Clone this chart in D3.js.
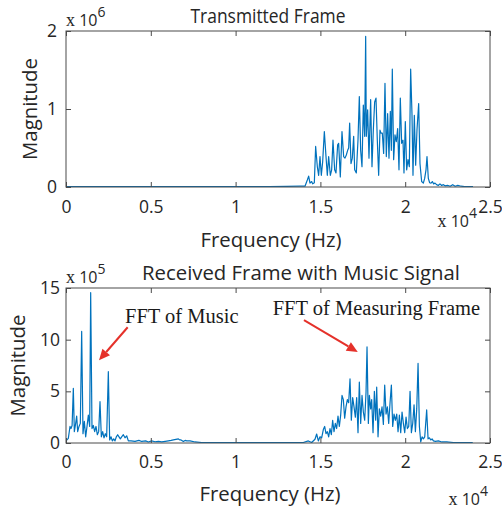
<!DOCTYPE html>
<html>
<head>
<meta charset="utf-8">
<script src="https://cdn.jsdelivr.net/npm/d3@7"></script>
<style>
  html, body { margin: 0; padding: 0; background: #fff; }
  svg { display: block; }
</style>
</head>
<body>
<svg id="chart" width="502" height="511"></svg>
<script>
// ---------------- DATA ----------------
// Frequency axis ticks (Hz) and labels (shown in units of 10^4)
const xTicks = [0, 5000, 10000, 15000, 20000, 25000];
const xTickLabels = ["0", "0.5", "1", "1.5", "2", "2.5"];

// Top panel: Transmitted Frame, magnitude in units of 10^6
const yTicksTop = [0, 1, 2];
const freqTop = [0, 2000, 4000, 6000, 8000, 10000, 12000, 13000, 13797, 14091, 14229, 14308, 14386, 14485, 14543, 14642,
  14720, 14819, 14897, 14976, 15055, 15133, 15232, 15330, 15408, 15487, 15585, 15664, 15742, 15840, 15919,
  16017, 16076, 16174, 16273, 16371, 16450, 16528, 16607, 16666, 16725, 16804, 16882, 16961, 17020, 17118,
  17216, 17295, 17374, 17452, 17531, 17610, 17669, 17708, 17786, 17865, 17963, 18042, 18120, 18199, 18278,
  18356, 18435, 18513, 18572, 18651, 18729, 18808, 18887, 18965, 19044, 19123, 19182, 19240, 19319, 19398,
  19476, 19555, 19634, 19712, 19791, 19870, 19928, 20007, 20086, 20164, 20243, 20322, 20400, 20459, 20538,
  20617, 20695, 20794, 20872, 20970, 21069, 21148, 21226, 21285, 21364, 21442, 21521, 21600, 21678, 21757,
  21850, 21950, 22050, 22150, 22250, 22350, 22500, 22650, 22800, 22950, 23100, 23300, 23500, 23700, 24000];
const magTop = [0.005, 0.004, 0.005, 0.004, 0.005, 0.005, 0.006, 0.008, 0.01, 0.01, 0.09, 0.14, 0.05, 0.07, 0.04, 0.055,
  0.52, 0.26, 0.15, 0.39, 0.15, 0.32, 0.71, 0.39, 0.15, 0.39, 0.15, 0.22, 0.60, 0.22, 0.18,
  0.54, 0.56, 0.13, 0.71, 0.39, 0.37, 0.41, 0.47, 0.50, 0.82, 0.30, 0.37, 0.65, 0.22, 0.18,
  0.60, 1.16, 0.47, 0.26, 1.05, 0.65, 1.93, 0.65, 0.99, 0.37, 1.12, 0.26, 0.73, 1.09, 1.14,
  0.60, 0.15, 0.73, 0.69, 0.69, 0.43, 1.33, 0.39, 0.94, 0.37, 0.97, 0.47, 1.51, 0.35, 0.67,
  0.58, 0.75, 0.22, 1.14, 0.56, 0.60, 0.18, 0.84, 0.22, 0.35, 0.26, 1.51, 0.94, 0.15, 0.92,
  0.28, 0.73, 1.07, 0.30, 0.07, 0.05, 0.11, 0.22, 0.39, 0.11, 0.055, 0.05, 0.07, 0.04, 0.05,
  0.03, 0.02, 0.04, 0.02, 0.03, 0.015, 0.02, 0.01, 0.03, 0.01, 0.02, 0.01, 0.005, 0.005, 0.005];

// Bottom panel: Received Frame with Music Signal, magnitude in units of 10^5
const yTicksBottom = [0, 5, 10, 15];
const freqBottom = [0, 137, 236, 295, 360, 432, 491, 570, 629, 688, 767, 845, 924, 1002, 1081, 1160, 1238, 1317,
  1396, 1455, 1533, 1612, 1690, 1769, 1848, 1926, 2005, 2084, 2162, 2241, 2320, 2398, 2496, 2575, 2654,
  2732, 2811, 2890, 2968, 3047, 3126, 3204, 3283, 3381, 3480, 3578, 3676, 3833, 4069, 4300, 4462, 4700,
  4855, 5050, 5249, 5450, 5642, 5850, 6035, 6200, 6330, 6480, 6625, 6700, 6782, 6920, 7020, 7117, 7313,
  7608, 8001, 9000, 10000, 11000, 12000, 13000, 13993, 14288, 14485, 14681, 14779, 14878, 14976, 15074,
  15173, 15251, 15330, 15409, 15487, 15566, 15645, 15723, 15802, 15881, 15959, 16038, 16117, 16195, 16274,
  16352, 16431, 16510, 16588, 16667, 16746, 16824, 16903, 16982, 17060, 17139, 17218, 17296, 17375, 17454,
  17532, 17611, 17690, 17749, 17828, 17887, 17965, 18024, 18103, 18182, 18260, 18319, 18398, 18477, 18555,
  18634, 18713, 18791, 18870, 18949, 19027, 19106, 19185, 19263, 19342, 19421, 19500, 19578, 19657, 19736,
  19814, 19893, 19972, 20050, 20129, 20208, 20286, 20365, 20444, 20522, 20601, 20680, 20758, 20837, 20916,
  20995, 21073, 21152, 21266, 21348, 21427, 21506, 21585, 21663, 21781, 21958, 22154, 22449, 22842, 23431, 23982];
const magBottom = [0.2, 0.45, 1.6, 1.4, 1.7, 5.3, 1.1, 1.9, 2.6, 1.1, 1.6, 1.9, 10.8, 0.9, 2.1, 0.6, 1.6, 2.7,
  1.6, 14.55, 1.4, 1.7, 1.1, 1.6, 0.8, 1.1, 4.0, 0.6, 1.1, 0.5, 0.9, 0.6, 6.9, 0.3, 0.6,
  0.2, 0.4, 0.2, 0.6, 0.8, 0.6, 0.4, 0.6, 0.8, 0.5, 0.7, 0.2, 0.2, 0.15, 0.25, 0.15, 0.2,
  0.1, 0.2, 0.12, 0.15, 0.1, 0.15, 0.2, 0.25, 0.3, 0.35, 0.4, 0.3, 0.3, 0.15, 0.25, 0.2, 0.2,
  0.1, 0.05, 0.03, 0.03, 0.03, 0.03, 0.03, 0.05, 0.2, 0.05, 0.36, 0.87, 0.2, 0.6, 0.5,
  1.3, 1.6, 0.9, 1.1, 0.6, 1.4, 0.8, 2.2, 1.1, 1.9, 1.4, 2.6, 1.6, 2.7, 4.6,
  4.2, 2.4, 3.5, 4.2, 3.9, 6.2, 2.2, 4.4, 3.5, 2.5, 4.4, 1.0, 5.9, 1.9, 4.6,
  3.0, 2.2, 4.9, 9.3, 1.9, 4.6, 3.3, 4.2, 1.0, 5.0, 2.2, 5.4, 0.6, 3.3, 2.6,
  3.5, 1.8, 5.6, 2.8, 3.5, 1.9, 3.9, 5.6, 1.6, 2.8, 2.2, 2.8, 1.1, 2.7, 1.0,
  3.0, 1.9, 1.0, 2.5, 1.4, 1.6, 5.0, 1.0, 1.9, 3.7, 1.1, 3.3, 7.7, 1.6, 0.1,
  0.6, 0.4, 0.6, 3.2, 0.4, 0.5, 0.3, 0.4, 0.2, 0.15, 0.2, 0.1, 0.1, 0.05, 0.05, 0.05];

// ---------------- DRAW ----------------
const svg = d3.select("#chart");
const lineColor = "#0072BD";
const axisColor = "#4a4a4a";
const textColor = "#262626";
const red = "#e5312a";
const SANS = '"Open Sans", "DejaVu Sans", sans-serif';
const SERIF = '"Liberation Serif", "Times New Roman", serif';

function panel(cfg) {
  const g = svg.append("g");
  const x = d3.scaleLinear().domain([0, 25000]).range([cfg.left, cfg.right]);
  const y = d3.scaleLinear().domain(cfg.yDomain).range([cfg.bottom, cfg.top]);

  const clipId = "clip" + cfg.id;
  svg.append("clipPath").attr("id", clipId).append("rect")
    .attr("x", cfg.left).attr("y", cfg.top - 2)
    .attr("width", cfg.right - cfg.left).attr("height", cfg.bottom - cfg.top + 2);

  const pts = cfg.freq.map((f, i) => [f, cfg.mag[i]]);
  g.append("path").datum(pts)
    .attr("clip-path", `url(#${clipId})`)
    .attr("fill", "none").attr("stroke", lineColor).attr("stroke-width", 1.2)
    .attr("stroke-linejoin", "round")
    .attr("d", d3.line().x(d => x(d[0])).y(d => y(d[1])));

  const fmtX = (d, i) => xTickLabels[i];
  const ax = [
    ["bottom", d3.axisBottom(x).tickValues(xTicks).tickFormat(fmtX).tickSizeInner(-5).tickSizeOuter(0).tickPadding(cfg.xPad), cfg.bottom],
    ["top", d3.axisTop(x).tickValues(xTicks).tickFormat("").tickSizeInner(-5).tickSizeOuter(0), cfg.top],
    ["left", d3.axisLeft(y).tickValues(cfg.yTicks).tickFormat(d3.format("d")).tickSizeInner(-5).tickSizeOuter(0).tickPadding(cfg.yPad), cfg.left],
    ["right", d3.axisRight(y).tickValues(cfg.yTicks).tickFormat("").tickSizeInner(-5).tickSizeOuter(0), cfg.right]
  ];
  ax.forEach(([side, axis, pos]) => {
    const a = g.append("g")
      .attr("transform", side === "bottom" || side === "top" ? `translate(0,${pos})` : `translate(${pos},0)`)
      .call(axis);
    a.select(".domain").remove();
    a.selectAll("line").attr("stroke", axisColor);
    a.selectAll("text").attr("font-size", 17.5).attr("fill", textColor).attr("font-family", SANS);
  });
  g.append("rect").attr("x", cfg.left).attr("y", cfg.top)
    .attr("width", cfg.right - cfg.left).attr("height", cfg.bottom - cfg.top)
    .attr("fill", "none").attr("stroke", axisColor).attr("stroke-width", 1);

  const txt = (sel) => sel.attr("font-family", SANS).attr("fill", textColor);
  txt(g.append("text")).attr("x", cfg.titleX).attr("y", cfg.titleY)
    .attr("text-anchor", "middle").attr("font-size", 19.5)
    .attr("textLength", cfg.titleLen).attr("lengthAdjust", "spacingAndGlyphs").text(cfg.title);
  txt(g.append("text")).attr("x", cfg.xLabelX).attr("y", cfg.xLabelY)
    .attr("text-anchor", "middle").attr("font-size", 20.5)
    .attr("textLength", 141).attr("lengthAdjust", "spacingAndGlyphs").text("Frequency (Hz)");
  txt(g.append("text")).attr("transform", `translate(${cfg.yLabelX},${(cfg.top + cfg.bottom) / 2}) rotate(-90)`)
    .attr("text-anchor", "middle").attr("font-size", 20.5)
    .attr("textLength", 102).attr("lengthAdjust", "spacingAndGlyphs").text("Magnitude");

  const ye = txt(g.append("text")).attr("x", cfg.left).attr("y", cfg.top - 5).attr("font-size", 16);
  ye.append("tspan").attr("font-family", SERIF).attr("font-size", 18).text("x");
  ye.append("tspan").text(" 10");
  ye.append("tspan").attr("dy", -9).attr("font-size", 14).text(cfg.yExp);
  const xe = txt(g.append("text")).attr("x", cfg.xExpX).attr("y", cfg.xExpY).attr("text-anchor", "end").attr("font-size", 16);
  xe.append("tspan").attr("font-family", SERIF).attr("font-size", 18).text("x");
  xe.append("tspan").text(" 10");
  xe.append("tspan").attr("dy", -9).attr("font-size", 14).text("4");

  return { x, y, g };
}

const topPanel = panel({
  id: "t", left: 66, right: 490, top: 31, bottom: 187,
  yDomain: [0, 2], yTicks: yTicksTop, freq: freqTop, mag: magTop,
  xPad: 14, yPad: 9,
  title: "Transmitted Frame", titleX: 268, titleY: 23, titleLen: 155,
  xLabelX: 271, xLabelY: 247, yLabelX: 37, yExp: "6", xExpX: 477, xExpY: 227
});

const botPanel = panel({
  id: "b", left: 66, right: 490, top: 288, bottom: 443,
  yDomain: [0, 15], yTicks: yTicksBottom, freq: freqBottom, mag: magBottom,
  xPad: 13, yPad: 6,
  title: "Received Frame with Music Signal", titleX: 301, titleY: 280, titleLen: 318,
  xLabelX: 270, xLabelY: 501, yLabelX: 25, yExp: "5", xExpX: 488, xExpY: 505
});

// ---------------- ANNOTATIONS (bottom panel, data coords) ----------------
const annTexts = ["FFT of Music", "FFT of Measuring Frame"];
const annTextPos = [[3479, 11.6], [12187, 12.4]];
const annArrows = [[[3638, 11.2], [1946, 8.0]], [[14032, 11.9], [17204, 8.8]]];

annTexts.forEach((t, i) => {
  botPanel.g.append("text")
    .attr("x", botPanel.x(annTextPos[i][0])).attr("y", botPanel.y(annTextPos[i][1]))
    .attr("font-family", SERIF)
    .attr("font-size", 20.5).attr("fill", "#1a1a1a")
    .text(t);
});
annArrows.forEach(([from, to]) => {
  const x1 = botPanel.x(from[0]), y1 = botPanel.y(from[1]);
  const x2 = botPanel.x(to[0]), y2 = botPanel.y(to[1]);
  const ang = Math.atan2(y2 - y1, x2 - x1);
  const L = 11, W = 5;
  const bx = x2 - L * Math.cos(ang), by = y2 - L * Math.sin(ang);
  botPanel.g.append("line").attr("x1", x1).attr("y1", y1).attr("x2", bx).attr("y2", by)
    .attr("stroke", red).attr("stroke-width", 2);
  const px = -Math.sin(ang) * W, py = Math.cos(ang) * W;
  botPanel.g.append("path")
    .attr("d", `M${x2},${y2}L${bx + px},${by + py}L${bx - px},${by - py}Z`)
    .attr("fill", red);
});
</script>
</body>
</html>
